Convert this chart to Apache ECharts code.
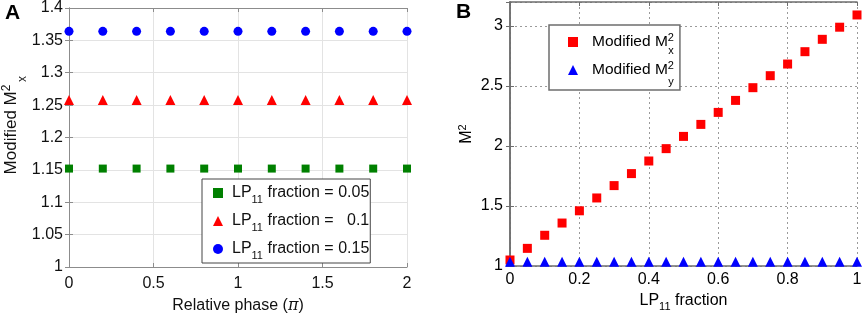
<!DOCTYPE html>
<html>
<head>
<meta charset="utf-8">
<script src="https://cdn.jsdelivr.net/npm/echarts@6/dist/echarts.min.js"></script>
<style>
  html, body { margin: 0; padding: 0; background: #fff; }
  #chart { width: 865px; height: 319px; }
</style>
</head>
<body>
<div id="chart"></div>
<script>
// panel A: modified M2x vs relative phase
const phaseA = [0, 0.2, 0.4, 0.6, 0.8, 1.0, 1.2, 1.4, 1.6, 1.8, 2.0];
const frac005 = [1.152, 1.152, 1.152, 1.152, 1.152, 1.152, 1.152, 1.152, 1.152, 1.152, 1.152];
const frac010 = [1.258, 1.258, 1.258, 1.258, 1.258, 1.258, 1.258, 1.258, 1.258, 1.258, 1.258];
const frac015 = [1.364, 1.364, 1.364, 1.364, 1.364, 1.364, 1.364, 1.364, 1.364, 1.364, 1.364];

// panel B: M2 vs LP11 fraction
const fracB = [0, 0.05, 0.1, 0.15, 0.2, 0.25, 0.3, 0.35, 0.4, 0.45, 0.5,
  0.55, 0.6, 0.65, 0.7, 0.75, 0.8, 0.85, 0.9, 0.95, 1.0];
const m2x = [1.05, 1.147, 1.256, 1.358, 1.46, 1.567, 1.67, 1.77, 1.875, 1.978, 2.08,
  2.18, 2.28, 2.38, 2.486, 2.586, 2.683, 2.786, 2.889, 2.99, 3.092];
const m2y = [1.035, 1.035, 1.035, 1.035, 1.035, 1.035, 1.035, 1.035, 1.035, 1.035, 1.035,
  1.035, 1.035, 1.035, 1.035, 1.035, 1.035, 1.035, 1.035, 1.035, 1.035];

const font = "'Liberation Sans', Arial, sans-serif";
const namesA = ['LP11 fraction = 0.05', 'LP11 fraction =   0.1', 'LP11 fraction = 0.15'];
const namesB = ['Modified Mx2', 'Modified My2'];

function zip(xs, ys) {
  return xs.map(function (x, i) { return [x, ys[i]]; });
}

let chart = echarts.init(document.getElementById('chart'));

const frameA = { lineStyle: { color: '#8c8c8c', width: 1 } };
const frameB = { lineStyle: { color: '#6e6e6e', width: 1.5 } };

let option = {
  animation: false,
  textStyle: { fontFamily: font, color: '#111' },
  grid: [
    { left: 69, right: 458, top: 6, bottom: 49 },
    { left: 510, right: 8, top: 2, bottom: 53 }
  ],
  xAxis: [
    {
      gridIndex: 0, type: 'value', min: 0, max: 2, interval: 0.5,
      axisLine: frameA,
      axisTick: { inside: true, length: 4, lineStyle: { color: '#8c8c8c' } },
      axisLabel: { fontSize: 16, color: '#111', margin: 9, fontFamily: font },
      splitLine: { show: true, lineStyle: { color: '#e3e3e3', width: 1 } },
      name: '{a|Relative phase (}{pi|π}{a|)}', nameLocation: 'middle', nameGap: 31,
      nameTextStyle: {
        rich: {
          a: { fontSize: 16, color: '#111', fontFamily: font },
          pi: { fontSize: 16, color: '#111', fontFamily: 'DejaVu Serif', fontStyle: 'italic' }
        }
      }
    },
    {
      gridIndex: 0, type: 'value', position: 'top', min: 0, max: 2, interval: 0.5,
      axisLine: frameA,
      axisTick: { inside: true, length: 4, lineStyle: { color: '#8c8c8c' } },
      axisLabel: { show: false }, splitLine: { show: false }
    },
    {
      gridIndex: 1, type: 'value', min: 0, max: 1, interval: 0.2,
      axisLine: frameB,
      axisTick: { inside: true, length: 4, lineStyle: { color: '#6e6e6e' } },
      axisLabel: { fontSize: 16, color: '#000', margin: 6, fontFamily: font },
      splitLine: { show: true, lineStyle: { color: '#9a9a9a', width: 1, type: [2, 3] } },
      name: '{a|LP}{sub|11}{a| fraction}', nameLocation: 'middle', nameGap: 19,
      nameTextStyle: {
        rich: {
          a: { fontSize: 16, color: '#000', fontFamily: font, lineHeight: 24 },
          sub: { fontSize: 11, color: '#000', fontFamily: font, lineHeight: 10, verticalAlign: 'bottom' }
        }
      }
    },
    {
      gridIndex: 1, type: 'value', position: 'top', min: 0, max: 1, interval: 0.2,
      axisLine: frameB,
      axisTick: { inside: true, length: 4, lineStyle: { color: '#6e6e6e' } },
      axisLabel: { show: false }, splitLine: { show: false }
    }
  ],
  yAxis: [
    {
      gridIndex: 0, type: 'value', min: 1, max: 1.4, interval: 0.05,
      axisLine: frameA,
      axisTick: { inside: true, length: 4, lineStyle: { color: '#8c8c8c' } },
      axisLabel: { fontSize: 16, color: '#111', margin: 6, fontFamily: font },
      splitLine: { show: true, lineStyle: { color: '#e3e3e3', width: 1 } },
      name: '{sp|}{a|Modified M}{sup|2}', nameLocation: 'middle', nameRotate: 90, nameGap: 48,
      nameTextStyle: {
        rich: {
          sp: { width: 16 },
          a: { fontSize: 17, color: '#111', fontFamily: font, lineHeight: 20 },
          sup: { fontSize: 12, color: '#111', fontFamily: font, lineHeight: 10, verticalAlign: 'top' }
        }
      }
    },
    {
      gridIndex: 0, type: 'value', position: 'right', min: 1, max: 1.4, interval: 0.05,
      axisLine: frameA,
      axisTick: { inside: true, length: 4, lineStyle: { color: '#8c8c8c' } },
      axisLabel: { show: false }, splitLine: { show: false }
    },
    {
      gridIndex: 1, type: 'value', min: 1, max: 3.2, interval: 0.5,
      axisLine: frameB,
      axisTick: { inside: true, length: 4, lineStyle: { color: '#6e6e6e' } },
      axisLabel: { fontSize: 16, color: '#000', margin: 7, fontFamily: font, showMaxLabel: false },
      splitLine: { show: true, lineStyle: { color: '#9a9a9a', width: 1, type: [2, 3] } },
      name: '{a|M}{sup|2}', nameLocation: 'middle', nameRotate: 90, nameGap: 33,
      nameTextStyle: {
        rich: {
          a: { fontSize: 16, color: '#000', fontFamily: font, lineHeight: 20 },
          sup: { fontSize: 11, color: '#000', fontFamily: font, lineHeight: 10, verticalAlign: 'top' }
        }
      }
    },
    {
      gridIndex: 1, type: 'value', position: 'right', min: 1, max: 3.2, interval: 0.5,
      axisLine: frameB,
      axisTick: { inside: true, length: 4, lineStyle: { color: '#6e6e6e' } },
      axisLabel: { show: false }, splitLine: { show: false }
    }
  ],
  legend: [
    {
      data: namesA, orient: 'vertical', left: 202, top: 179,
      itemWidth: 10, itemHeight: 10, itemGap: 8,
      padding: [6, 1, 2, 11],
      backgroundColor: '#fff', borderColor: '#444', borderWidth: 1, borderRadius: 0,
      formatter: function (name) {
        return '{sp|}{a|LP}{sub|11}{a|' + name.slice(4) + '}';
      },
      textStyle: {
        rich: {
          sp: { width: 4 },
          a: { fontSize: 16, color: '#111', fontFamily: font, lineHeight: 24 },
          sub: { fontSize: 11, color: '#111', fontFamily: font, lineHeight: 10, verticalAlign: 'bottom' }
        }
      }
    },
    {
      data: namesB, orient: 'vertical', left: 549, top: 25,
      itemWidth: 10, itemHeight: 10, itemGap: 10,
      padding: [7, 6, 12, 19],
      backgroundColor: '#fff', borderColor: '#6e6e6e', borderWidth: 1.5, borderRadius: 0,
      formatter: function () {
        return '{sp|}{a|Modified M}{sup|2}';
      },
      textStyle: {
        rich: {
          sp: { width: 9 },
          a: { fontSize: 15.5, color: '#000', fontFamily: font, lineHeight: 20 },
          sup: { fontSize: 11, color: '#000', fontFamily: font, lineHeight: 10, verticalAlign: 'top' }
        }
      }
    }
  ],
  series: [
    { name: namesA[0], type: 'scatter', xAxisIndex: 0, yAxisIndex: 0, symbol: 'rect', symbolSize: 8,
      itemStyle: { color: '#008000', opacity: 1 }, data: zip(phaseA, frac005) },
    { name: namesA[1], type: 'scatter', xAxisIndex: 0, yAxisIndex: 0, symbol: 'triangle', symbolSize: 10,
      itemStyle: { color: '#ff0000', opacity: 1 }, data: zip(phaseA, frac010) },
    { name: namesA[2], type: 'scatter', xAxisIndex: 0, yAxisIndex: 0, symbol: 'circle', symbolSize: 9,
      itemStyle: { color: '#0000ff', opacity: 1 }, data: zip(phaseA, frac015) },
    { name: namesB[0], type: 'scatter', xAxisIndex: 2, yAxisIndex: 2, symbol: 'rect', symbolSize: 9,
      itemStyle: { color: '#ff0000', opacity: 1 }, data: zip(fracB, m2x) },
    { name: namesB[1], type: 'scatter', xAxisIndex: 2, yAxisIndex: 2, symbol: 'triangle', symbolSize: 10,
      itemStyle: { color: '#0000ff', opacity: 1 }, data: zip(fracB, m2y) }
  ],
  graphic: [
    { type: 'text', left: 5, top: 3, style: { text: 'A', font: 'bold 21px ' + font, fill: '#000' } },
    { type: 'text', left: 456, top: 2, style: { text: 'B', font: 'bold 21px ' + font, fill: '#000' } },
    // subscripts stacked under the superscript 2
    { type: 'text', x: 23, y: 82, rotation: Math.PI / 2,
      style: { text: 'x', font: '12px ' + font, fill: '#111', align: 'left', verticalAlign: 'middle' } },
    { type: 'text', x: 671, y: 51, z: 100,
      style: { text: 'x', font: '11px ' + font, fill: '#000', align: 'center', verticalAlign: 'middle' } },
    { type: 'text', x: 671, y: 82, z: 100,
      style: { text: 'y', font: '11px ' + font, fill: '#000', align: 'center', verticalAlign: 'middle' } }
  ]
};

chart.setOption(option);
</script>
</body>
</html>
